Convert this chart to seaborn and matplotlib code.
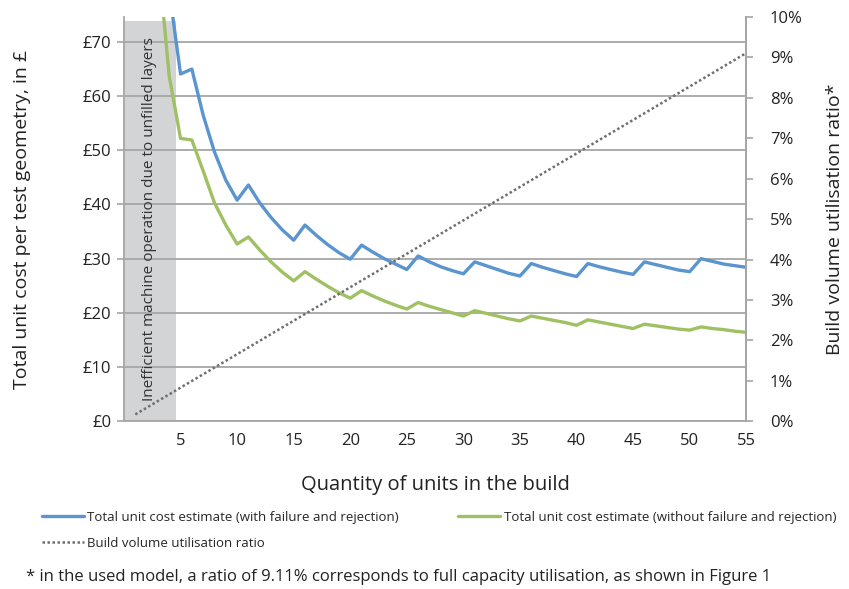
import pandas as pd
import seaborn as sns
import matplotlib.pyplot as plt
from matplotlib.ticker import MultipleLocator, FuncFormatter

# Values
units = list(range(3, 56))
cost_with_failure = [95.0, 79.5, 64.1, 65.0, 56.5, 49.7, 44.5, 40.8, 43.6, 40.3,
                     37.6, 35.3, 33.4, 36.2, 34.3, 32.6, 31.1, 29.9, 32.5, 31.2,
                     30.0, 29.0, 28.0, 30.5, 29.4, 28.5, 27.8, 27.2, 29.4, 28.7,
                     28.0, 27.3, 26.8, 29.1, 28.4, 27.8, 27.2, 26.7, 29.1, 28.5,
                     28.0, 27.5, 27.1, 29.4, 28.9, 28.4, 27.9, 27.6, 30.0, 29.5,
                     29.0, 28.7, 28.4]
cost_without_failure = [86.0, 63.7, 52.2, 51.9, 46.2, 40.3, 36.2, 32.7, 34.0, 31.6,
                        29.4, 27.5, 25.9, 27.6, 26.2, 24.9, 23.7, 22.7, 24.1, 23.1,
                        22.2, 21.4, 20.7, 21.9, 21.2, 20.6, 20.0, 19.4, 20.4, 19.9,
                        19.4, 18.9, 18.5, 19.4, 19.0, 18.6, 18.2, 17.7, 18.7, 18.3,
                        17.9, 17.5, 17.1, 17.9, 17.6, 17.3, 17.0, 16.8, 17.4, 17.1,
                        16.9, 16.6, 16.4]
util_units = [1, 55]
util_pct = [0.166, 9.11]
inefficient_end = 4.6

df = pd.DataFrame({"units": units,
                   "with": cost_with_failure,
                   "without": cost_without_failure})
df_util = pd.DataFrame({"units": util_units, "pct": util_pct})

sns.set_style("white")
plt.rcParams['font.family'] = ['Open Sans', 'DejaVu Sans']

blue = '#5b95cf'
green = '#9fc163'
axis_grey = '#a6a6a6'
text_col = '#222222'

fig = plt.figure(figsize=(8.49, 5.89), dpi=100)
ax = fig.add_axes([0.146, 0.285, 0.733, 0.686])

# grey area for inefficient operation
ax.axvspan(0, inefficient_end, ymin=0, ymax=0.99, color='#d3d4d6', lw=0, zorder=0)
ax.text(2.3, 0.5, "Inefficient machine operation due to unfilled layers",
        transform=ax.get_xaxis_transform(), rotation=90, ha='center', va='center',
        fontsize=11, color='#333333')

sns.lineplot(data=df, x="units", y="with", ax=ax, color=blue, lw=2.4,
             label="Total unit cost estimate (with failure and rejection)", legend=False, zorder=3)
sns.lineplot(data=df, x="units", y="without", ax=ax, color=green, lw=2.4,
             label="Total unit cost estimate (without failure and rejection)", legend=False, zorder=3)

ax.set_xlim(0, 55)
ax.set_ylim(0, 74.6)
ax.yaxis.set_major_locator(MultipleLocator(10))
ax.yaxis.set_major_formatter(FuncFormatter(lambda v, p: f"£{v:.0f}"))
ax.xaxis.set_major_locator(MultipleLocator(5))
ax.xaxis.set_minor_locator(MultipleLocator(1))
ax.xaxis.set_major_formatter(FuncFormatter(lambda v, p: "" if v == 0 else f"{v:.0f}"))
ax.yaxis.grid(True, color=axis_grey, lw=1.3)
ax.set_axisbelow(True)

for s in ['left', 'bottom', 'right']:
    ax.spines[s].set_color(axis_grey)
    ax.spines[s].set_linewidth(1.3)
ax.spines['top'].set_visible(False)
ax.tick_params(axis='both', which='both', direction='out', color=axis_grey, width=1.2,
               length=5, labelsize=12, labelcolor=text_col)
ax.tick_params(axis='y', pad=4)
ax.tick_params(axis='x', which='minor', length=5)

ax.set_xlabel("Quantity of units in the build", fontsize=14.5, color=text_col, labelpad=19)
ax.set_ylabel("Total unit cost per test geometry, in £", fontsize=14, color=text_col, labelpad=37)

ax2 = ax.twinx()
sns.lineplot(data=df_util, x="units", y="pct", ax=ax2, color='#6f6f6f', lw=1.8,
             linestyle=(0, (1, 1)), label="Build volume utilisation ratio", legend=False)
ax2.set_ylim(0, 10)
ax2.yaxis.set_major_locator(MultipleLocator(1))
ax2.yaxis.set_major_formatter(FuncFormatter(lambda v, p: f"{v:.0f}%"))
for s in ['left', 'bottom', 'top']:
    ax2.spines[s].set_visible(False)
ax2.spines['right'].set_color(axis_grey)
ax2.spines['right'].set_linewidth(1.3)
ax2.tick_params(axis='y', direction='out', color=axis_grey, width=1.2, length=5,
                labelsize=12, labelcolor=text_col, pad=12)
ax2.set_ylabel("Build volume utilisation ratio*", fontsize=14, color=text_col, labelpad=17)

h1, l1 = ax.get_legend_handles_labels()
h2, l2 = ax2.get_legend_handles_labels()
handles = [h1[0], h2[0], h1[1]]
labels = [l1[0], l2[0], l1[1]]
fig.legend(handles, labels, loc='upper left', bbox_to_anchor=(0.049, 0.133), ncol=2,
           frameon=False, fontsize=9.5, handlelength=3.2, handletextpad=0.25,
           columnspacing=4.5, labelspacing=1.0, borderaxespad=0, borderpad=0)

fig.text(0.031, 0.0204, "* in the used model, a ratio of 9.11% corresponds to full capacity utilisation, as shown in Figure 1",
         fontsize=12, color=text_col, ha='left', va='center')

fig.savefig("out.png", dpi=100)
